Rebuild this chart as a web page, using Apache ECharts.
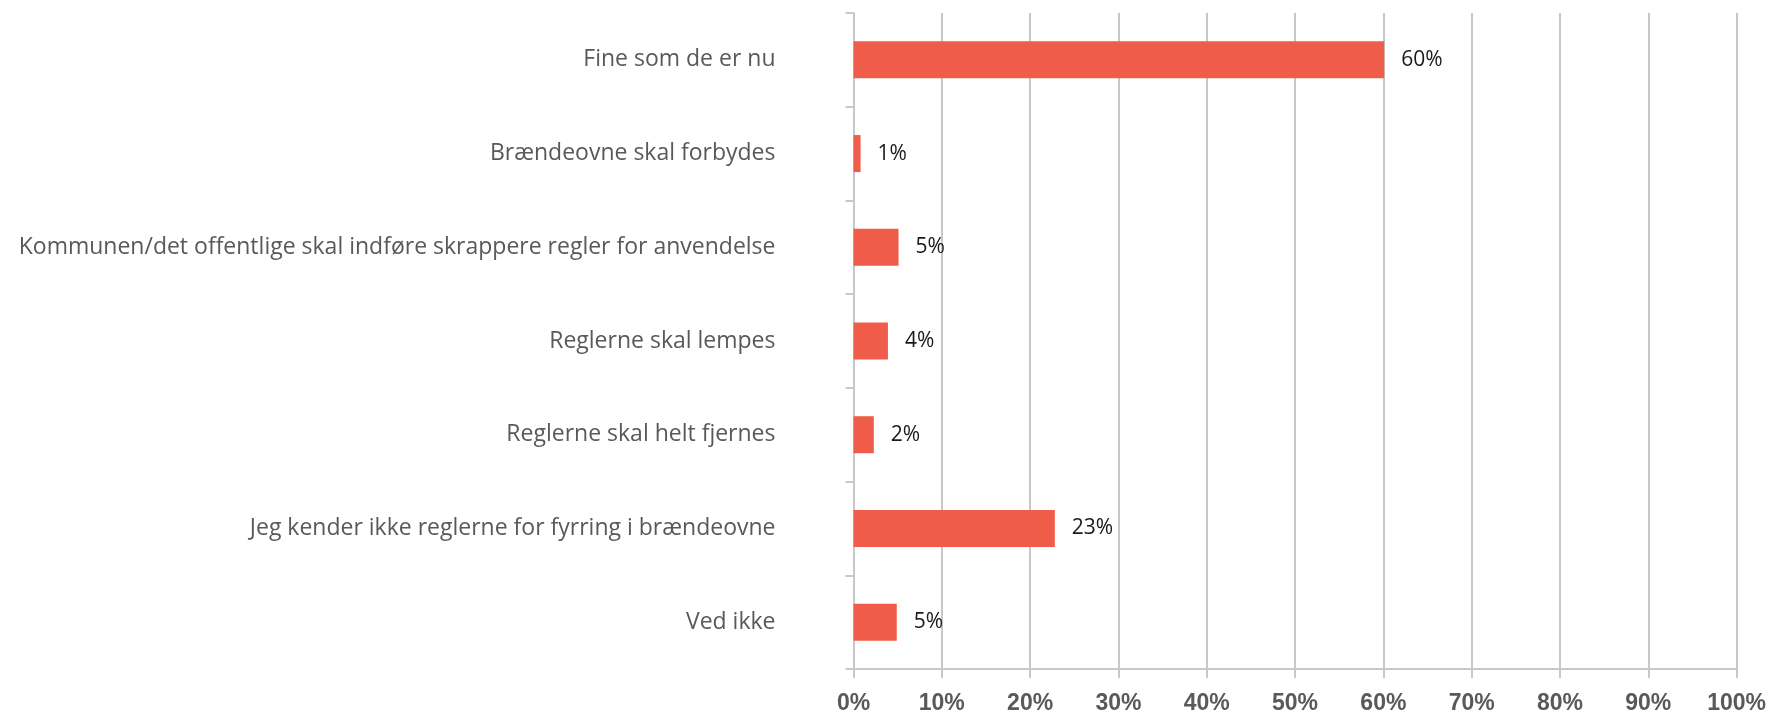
<!DOCTYPE html>
<html>
<head>
<meta charset="utf-8">
<script src="https://cdn.jsdelivr.net/npm/echarts@6/dist/echarts.min.js"></script>
<style>
  html, body { margin: 0; padding: 0; background: #fff; }
  #chart { width: 1769px; height: 715px; }
</style>
</head>
<body>
<div id="chart"></div>
<script>
// svar på spørgsmålet om reglerne for brændeovne
const categories = [
  "Fine som de er nu",
  "Brændeovne skal forbydes",
  "Kommunen/det offentlige skal indføre skrappere regler for anvendelse",
  "Reglerne skal lempes",
  "Reglerne skal helt fjernes",
  "Jeg kender ikke reglerne for fyrring i brændeovne",
  "Ved ikke"
];
const values = [60.1, 0.8, 5.1, 3.9, 2.3, 22.8, 4.9];
const valueLabels = ["60%", "1%", "5%", "4%", "2%", "23%", "5%"];
const xTicks = [0, 10, 20, 30, 40, 50, 60, 70, 80, 90, 100];

const chart = echarts.init(document.getElementById("chart"));
const gridColor = "#c8c8c8";

const option = {
  animation: false,
  grid: { left: 853.5, right: 31.5, top: 13, bottom: 46, containLabel: false },
  xAxis: {
    type: "value",
    min: xTicks[0],
    max: xTicks[xTicks.length - 1],
    interval: 10,
    axisLine: { show: true, lineStyle: { color: gridColor, width: 2 } },
    axisTick: { show: true, length: 9, lineStyle: { color: gridColor, width: 2 } },
    splitLine: { show: true, lineStyle: { color: gridColor, width: 2 } },
    axisLabel: {
      margin: 23,
      formatter: "{value}%",
      color: "#595959",
      fontWeight: "bold",
      fontSize: 23,
      fontFamily: "Liberation Sans"
    }
  },
  yAxis: {
    type: "category",
    inverse: true,
    data: categories,
    axisLine: { show: true, lineStyle: { color: gridColor, width: 2 } },
    axisTick: { show: true, length: 8, lineStyle: { color: gridColor, width: 2 } },
    axisLabel: {
      margin: 78,
      color: "#595959",
      fontSize: 23,
      fontFamily: "Open Sans"
    }
  },
  series: [
    {
      type: "bar",
      data: values,
      barWidth: 37,
      itemStyle: { color: "#ef5d4a" },
      label: {
        show: true,
        position: "right",
        distance: 17,
        color: "#1a1a1a",
        fontSize: 21,
        fontFamily: "Open Sans",
        formatter: (p) => valueLabels[p.dataIndex]
      }
    }
  ]
};

chart.setOption(option);
</script>
</body>
</html>
